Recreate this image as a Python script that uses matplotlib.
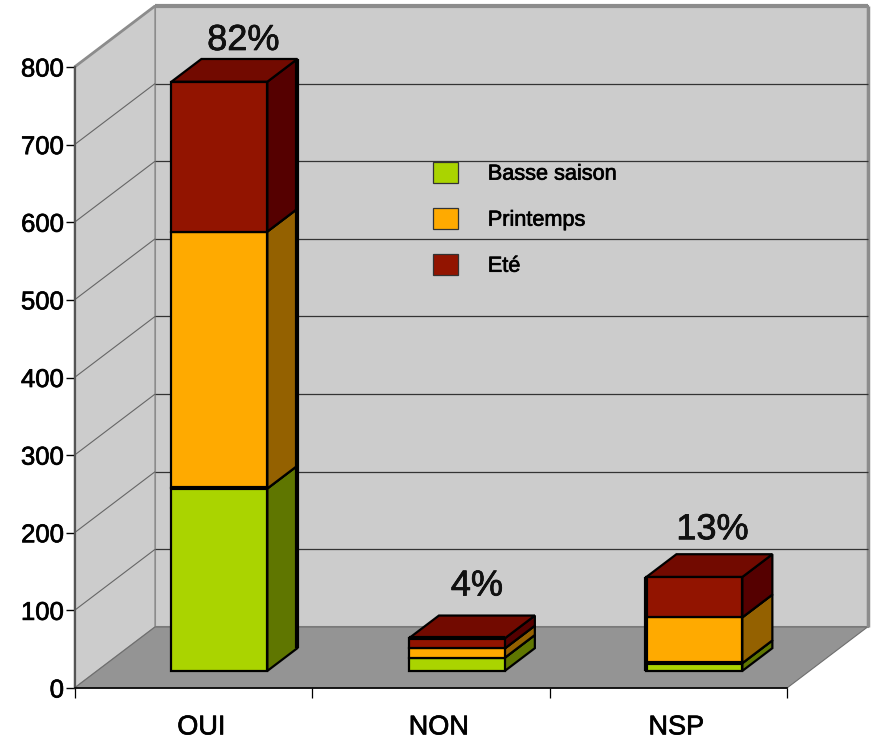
import matplotlib
matplotlib.use('Agg')
import matplotlib.pyplot as plt
import matplotlib.patheffects as pe
from matplotlib.patches import Polygon, Patch

plt.rcParams['font.family'] = ['Liberation Sans', 'DejaVu Sans']

# data
categories = ['OUI', 'NON', 'NSP']
series_names = ['Basse saison', 'Printemps', 'Eté']
basse_saison = [235, 17, 10]
printemps = [331, 12, 59]
ete = [193, 13, 52]
percents = ['82%', '4%', '13%']
y_ticks = [0, 100, 200, 300, 400, 500, 600, 700, 800]

front_colors = ['#AAD400', '#FFAA00', '#921400']
side_colors = ['#5F7600', '#946100', '#550000']
top_colors = ['#5F7600', '#946100', '#720A00']

# how far the back wall sits from the front plane, in data units
DX = 0.339
DY = 78.6
# where the bars sit between front and back
D0 = 0.28
D1 = 0.653
BAR_W = 0.404
BAR_SHIFT = 0.015

fig = plt.figure(figsize=(8.72, 7.39), dpi=100)
ax = fig.add_axes([74.5 / 872, (739 - 688) / 739, 712.5 / 872, 621 / 739])
ax.set_xlim(0, 3)
ax.set_ylim(0, 800)
ax.patch.set_visible(False)

# the original text is hinted and looks a bit heavier
heavy = [pe.withStroke(linewidth=0.5, foreground='black')]


def pt(x, v, d):
    return (x + d * DX, v + d * DY)


def poly(points, color, lw=0.0, edge='black', z=1):
    ax.add_patch(Polygon(points, closed=True, facecolor=color, edgecolor=edge,
                         linewidth=lw, clip_on=False, zorder=z, joinstyle='miter'))


def seg(a, b, color='black', lw=3, z=12):
    ax.plot([a[0], b[0]], [a[1], b[1]], color=color, lw=lw, clip_on=False, zorder=z,
            solid_capstyle='butt')


# walls and floor
poly([pt(0, 0, 1), pt(3, 0, 1), pt(3, 800, 1), pt(0, 800, 1)], '#CCCCCC', 1.5, '#8C8C8C')
poly([pt(0, 0, 0), pt(0, 0, 1), pt(0, 800, 1), pt(0, 800, 0)], '#CCCCCC', 1.0, '#8C8C8C')
poly([pt(0, 0, 0), pt(3, 0, 0), pt(3, 0, 1), pt(0, 0, 1)], '#949494', 0.8, '#6E6E6E')
seg(pt(0, 800, 1), pt(3, 800, 1), '#8C8C8C', 3, 2)
seg(pt(3, 0, 1), pt(3, 800, 1), '#8C8C8C', 2.5, 2)
seg(pt(0, 800, 0), pt(0, 800, 1), '#8C8C8C', 2, 2)

# grid lines, on the side wall and the back wall
for v in y_ticks[1:-1]:
    a, b, c = pt(0, v, 0), pt(0, v, 1), pt(3, v, 1)
    seg(a, b, '#666666', 0.8, 2)
    seg(b, c, '#333333', 0.9, 2)

# the bars
for i in range(len(categories)):
    x0 = i + 0.5 + BAR_SHIFT - BAR_W / 2
    x1 = x0 + BAR_W
    bottom = 0
    z = 3
    for vals, fc, sc, tc in zip([basse_saison, printemps, ete], front_colors, side_colors, top_colors):
        top = bottom + vals[i]
        poly([pt(x1, bottom, D0), pt(x1, bottom, D1), pt(x1, top, D1), pt(x1, top, D0)], sc, 1.6, z=z)
        poly([pt(x0, top, D0), pt(x1, top, D0), pt(x1, top, D1), pt(x0, top, D1)], tc, 1.6, z=z)
        poly([pt(x0, bottom, D0), pt(x1, bottom, D0), pt(x1, top, D0), pt(x0, top, D0)], fc, 1.6, z=z + 1)
        bottom = top
        z += 2


# heavier strokes that the original has on some edges
def left_of(i):
    return i + 0.5 + BAR_SHIFT - BAR_W / 2


def front_edge(i, v):
    seg(pt(left_of(i), v, D0), pt(left_of(i) + BAR_W, v, D0))


front_edge(0, basse_saison[0])
front_edge(1, basse_saison[1] + printemps[1] + ete[1])
front_edge(2, basse_saison[2])
seg(pt(left_of(0) + BAR_W, 0, D1), pt(left_of(0) + BAR_W, basse_saison[0] + printemps[0] + ete[0], D1))
seg(pt(left_of(2), 0, D0), pt(left_of(2), basse_saison[2] + printemps[2] + ete[2], D0))

# percent labels above each bar, offsets in pixels from the back of the top face
label_offsets = [(-6, 9), (-10, 20), (-12, 15)]
for i, label in enumerate(percents):
    total = basse_saison[i] + printemps[i] + ete[i]
    xy = pt(i + 0.5 + BAR_SHIFT, total, D1)
    off = label_offsets[i]
    t = ax.annotate(label, xy=xy, xytext=(off[0] * 0.72, off[1] * 0.72), textcoords='offset points',
                    ha='center', va='baseline', fontsize=26, color='#111111', zorder=20,
                    annotation_clip=False)
    t.set_path_effects(heavy)

# axes
ax.spines['top'].set_visible(False)
ax.spines['right'].set_visible(False)
ax.spines['left'].set_color('#555555')
ax.spines['left'].set_linewidth(1.6)
ax.spines['left'].set_zorder(5)
ax.spines['bottom'].set_color('black')
ax.spines['bottom'].set_linewidth(1.2)
ax.spines['bottom'].set_zorder(5)
ax.set_yticks(y_ticks)
ax.tick_params(axis='y', length=6.5, width=1.0, pad=1, labelsize=18.5, color='black')
ax.set_xticks([0, 1, 2, 3])
ax.set_xticklabels([])
ax.tick_params(axis='x', length=7.5, width=0.9, color='black')
ax.set_xticks([i + 0.534 for i in range(3)], labels=categories, minor=True)
ax.tick_params(axis='x', which='minor', length=0, pad=19, labelsize=19.5)
for t in ax.get_yticklabels() + ax.get_xticklabels(minor=True):
    t.set_path_effects(heavy)
    t.set_y(t.get_position()[1])

handles = [Patch(facecolor=c, edgecolor='#333333', linewidth=0.9) for c in front_colors]
leg = ax.legend(handles, series_names, frameon=False, fontsize=15.6,
                loc='upper left', bbox_to_anchor=((433 - 74.5) / 712.5, (688 - 162) / 621),
                borderaxespad=0, borderpad=0, handlelength=1.15, handleheight=1.08,
                handletextpad=1.38, labelspacing=1.08)
leg.set_zorder(15)
for t in leg.get_texts():
    t.set_path_effects(heavy)

fig.savefig('out.png', dpi=100)
